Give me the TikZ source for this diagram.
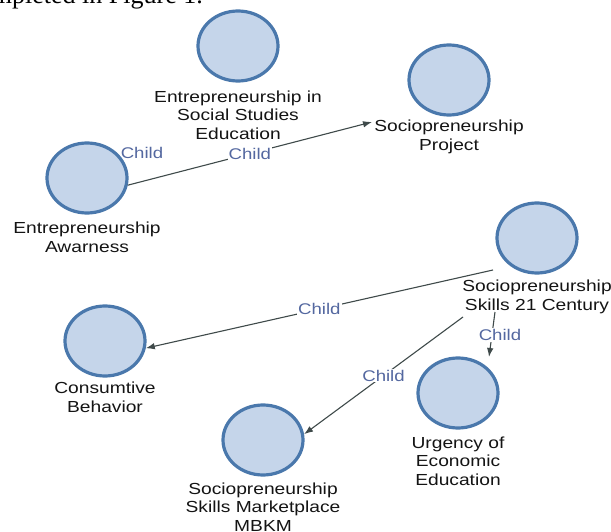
\documentclass[tikz,border=0pt]{standalone}
\usepackage{fontspec}
\setmainfont{Liberation Sans}
\newfontfamily\labfont[FakeStretch=1.2]{Liberation Sans}
\newfontfamily\bodyserif{Liberation Serif}
\usetikzlibrary{shapes.geometric,arrows.meta}

\definecolor{vtxfill}{HTML}{C5D5EA}
\definecolor{vtxline}{HTML}{4A78AC}
\definecolor{linkgray}{HTML}{3F4A4A}
\definecolor{childblue}{HTML}{5468A0}
\definecolor{captext}{HTML}{141414}

\begin{document}
\begin{tikzpicture}[x=1pt,y=-1pt,
  vertex/.style={ellipse, draw=vtxline, fill=vtxfill, line width=3.2pt,
    minimum width=80pt, minimum height=70pt, inner sep=0pt},
  caption/.style={font=\labfont\fontsize{16}{18.7}\selectfont,
    text=captext, align=center, inner sep=0pt},
  rel/.style={font=\labfont\fontsize{15.5}{18}\selectfont,
    text=childblue, inner sep=1pt},
  relcut/.style={rel, fill=white},
  link/.style={draw=linkgray, line width=1.1pt,
    -{Latex[length=9pt,width=6.5pt]}},
]
\clip (0,0) rectangle (611,532);
\fill[white] (0,0) rectangle (611,532);

% running text of the page above the figure
\node[anchor=base east, inner sep=0pt,
  font=\bodyserif\fontsize{26}{30}\selectfont] (runtext) at (203,4)
  {completed in Figure 1.};

% vertices
\node[vertex] (edu)  at (238,46)  {};
\node[vertex] (aware) at (87,178) {};
\node[vertex] (proj) at (449,80)  {};
\node[vertex] (cent) at (537,238) {};
\node[vertex] (cons) at (105,341) {};
\node[vertex] (mkt)  at (263,440) {};
\node[vertex] (urg)  at (458,393) {};

% vertex captions
\node[caption] (eduL)   at (238,115) {Entrepreneurship in\\Social Studies\\Education};
\node[caption] (awareL) at (87,237)  {Entrepreneurship\\Awarness};
\node[caption] (projL)  at (449,137) {Sociopreneurship\\Project};
\node[caption] (centL)  at (537,297) {Sociopreneurship\\Skills 21 Century};
\node[caption] (consL)  at (105,397) {Consumtive\\Behavior};
\node[caption] (mktL)   at (263,507) {Sociopreneurship\\Skills Marketplace\\MBKM};
\node[caption] (urgL)   at (458,461) {Urgency of\\Economic\\Education};

% free ends of the links
\coordinate (projIn)  at (372,122);
\coordinate (consOut) at (493,270);
\coordinate (mktOut)  at (463,317);
\coordinate (urgOut)  at (495,312);
\coordinate (urgIn)   at (489,357);

% links
\draw[link] (aware.-10) -- node[relcut, pos=0.5] (c1) {Child} (projIn);
\draw[link] (consOut) -- node[relcut, pos=0.5] (c2) {Child} (cons.-10);
\draw[link] (mktOut) -- node[relcut, pos=0.5] (c4) {Child} (mkt.8);
\draw[link] (urgOut) -- (urgIn);
\node[relcut] (c3) at (500,335) {Child};

% stray relation label beside the awareness vertex
\node[rel] (c0) at (142,153) {Child};
\end{tikzpicture}
\end{document}
